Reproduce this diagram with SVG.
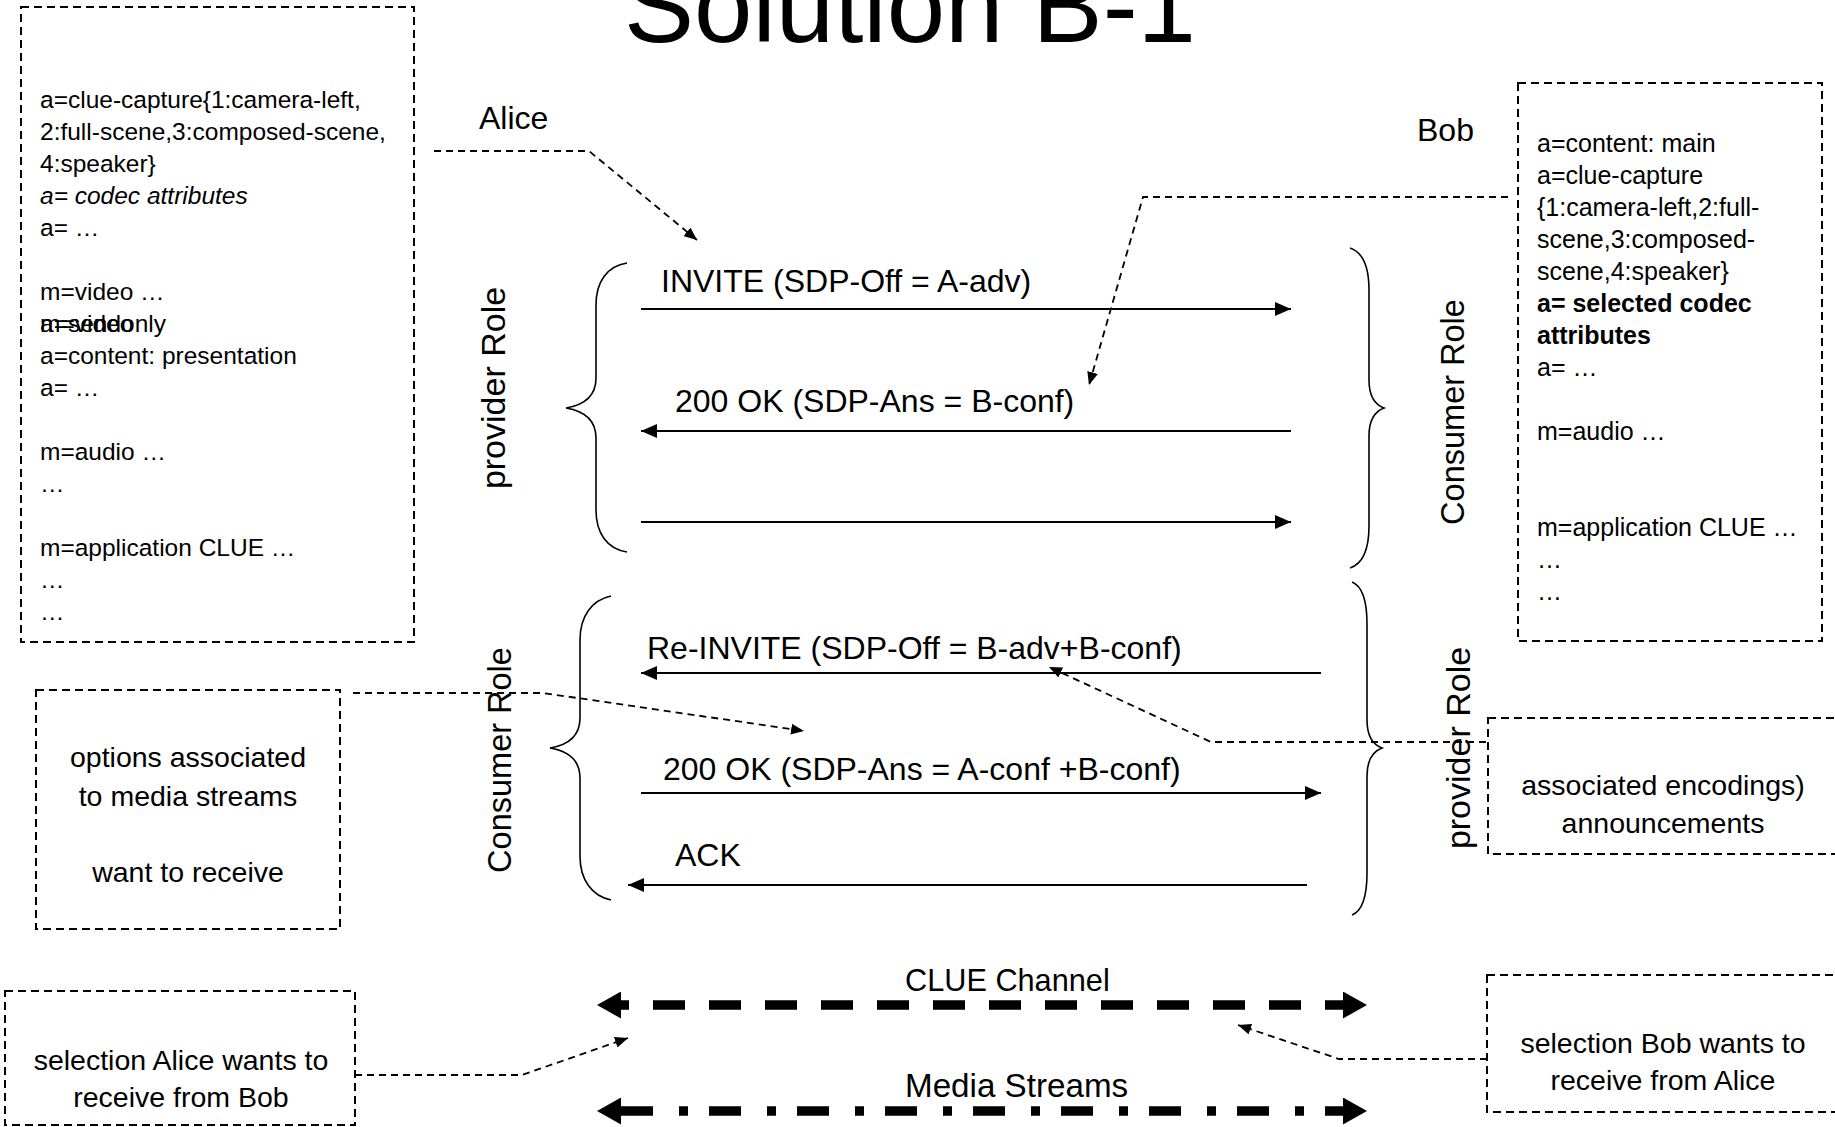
<svg xmlns="http://www.w3.org/2000/svg" width="1835" height="1127" viewBox="0 0 1835 1127">
<style>
text{font-family:"Liberation Sans",Arial,sans-serif;fill:#000}
.box{fill:none;stroke:#000;stroke-width:2;stroke-dasharray:8 5}
.conn{fill:none;stroke:#000;stroke-width:1.8;stroke-dasharray:7 5}
.msg{stroke:#000;stroke-width:2;fill:none}
.brace{fill:none;stroke:#000;stroke-width:1.6}
.sdp{font-size:24.5px}
.sdpr{font-size:25px}
.lbl{font-size:32px}
.note{font-size:28.5px;text-anchor:middle}
.role{text-anchor:middle}
.thick{fill:none;stroke:#000;stroke-width:9.5}
</style>
<defs>
<marker id="ah" viewBox="0 0 16 14" refX="16" refY="7" markerWidth="16" markerHeight="14" markerUnits="userSpaceOnUse" orient="auto"><path d="M0,0 L16,7 L0,14 z" fill="#000"/></marker>
<marker id="sh" viewBox="0 0 13 11" refX="13" refY="5.5" markerWidth="13" markerHeight="11" markerUnits="userSpaceOnUse" orient="auto"><path d="M0,0 L13,5.5 L0,11 z" fill="#000"/></marker>
<marker id="bh" viewBox="0 0 24 27" refX="0" refY="13.5" markerWidth="24" markerHeight="27" markerUnits="userSpaceOnUse" orient="auto-start-reverse"><path d="M0,0 L24,13.5 L0,27 z" fill="#000"/></marker>
</defs>

<text x="910" y="42" font-size="105" text-anchor="middle">Solution B-1</text>

<g id="alice-label"><text class="lbl" x="479" y="129">Alice</text></g>
<g id="bob-label"><text class="lbl" x="1417" y="141" font-size="31.5">Bob</text></g>

<g id="alice-sdp">
<rect class="box" x="21" y="7" width="393" height="635"/>
<g class="sdp">
<text x="40" y="108">a=clue-capture{1:camera-left,</text>
<text x="40" y="140">2:full-scene,3:composed-scene,</text>
<text x="40" y="172">4:speaker}</text>
<text x="40" y="204" font-style="italic">a= codec attributes</text>
<text x="40" y="236">a= …</text>
<text x="40" y="300">m=video …</text>
<text x="40" y="332">a=sendonly</text>
<text x="40" y="332">m=video</text>
<text x="40" y="364">a=content: presentation</text>
<text x="40" y="396">a= …</text>
<text x="40" y="460">m=audio …</text>
<text x="40" y="492">…</text>
<text x="40" y="556">m=application CLUE …</text>
<text x="40" y="588">…</text>
<text x="40" y="620">…</text>
</g>
</g>

<g id="bob-sdp">
<rect class="box" x="1518" y="83" width="304" height="558"/>
<g class="sdpr">
<text x="1537" y="152">a=content: main</text>
<text x="1537" y="184">a=clue-capture</text>
<text x="1537" y="216">{1:camera-left,2:full-</text>
<text x="1537" y="248">scene,3:composed-</text>
<text x="1537" y="280">scene,4:speaker}</text>
<text x="1537" y="312" font-weight="bold">a= selected codec</text>
<text x="1537" y="344" font-weight="bold">attributes</text>
<text x="1537" y="376">a= …</text>
<text x="1537" y="440">m=audio …</text>
<text x="1537" y="536">m=application CLUE …</text>
<text x="1537" y="568">…</text>
<text x="1537" y="600">…</text>
</g>
</g>

<g id="options-note">
<rect class="box" x="36" y="690" width="304" height="239"/>
<text class="note" x="188" y="767" font-size="29">options associated</text>
<text class="note" x="188" y="806" font-size="29">to media streams</text>
<text class="note" x="188" y="882" font-size="29">want to receive</text>
</g>

<g id="announcements-note">
<rect class="box" x="1488" y="718" width="400" height="136"/>
<text class="note" x="1663" y="795">associated encodings)</text>
<text class="note" x="1663" y="833">announcements</text>
</g>

<g id="alice-selection-note">
<rect class="box" x="5" y="991" width="350" height="134"/>
<text class="note" x="181" y="1070" font-size="28">selection Alice wants to</text>
<text class="note" x="181" y="1107" font-size="28">receive from Bob</text>
</g>

<g id="bob-selection-note">
<rect class="box" x="1487" y="975" width="400" height="137"/>
<text class="note" x="1663" y="1053" font-size="28">selection Bob wants to</text>
<text class="note" x="1663" y="1090" font-size="28">receive from Alice</text>
</g>

<g id="braces">
<path class="brace" d="M627,263 C607,266 596,282 596,305 L596,378 C596,396 584,405 566,408 C584,411 596,420 596,438 L596,510 C596,533 607,549 627,552"/>
<path class="brace" d="M1350,248 C1362,252 1369,266 1369,290 L1369,380 C1369,397 1376,405 1384,408 C1376,411 1369,419 1369,436 L1369,526 C1369,550 1362,564 1350,568"/>
<path class="brace" d="M611,596 C592,600 580,616 580,640 L580,718 C580,736 568,745 550,748 C568,751 580,760 580,778 L580,856 C580,880 592,896 611,900"/>
<path class="brace" d="M1352,582 C1362,586 1367,600 1367,624 L1367,720 C1367,737 1374,745 1382,748 C1374,751 1367,759 1367,776 L1367,873 C1367,897 1362,911 1352,915"/>
</g>

<g id="roles">
<text class="role" font-size="34" transform="translate(505,388) rotate(-90)">provider Role</text>
<text class="role" font-size="32.5" transform="translate(1464,412) rotate(-90)">Consumer Role</text>
<text class="role" font-size="32.5" transform="translate(511,760) rotate(-90)">Consumer Role</text>
<text class="role" font-size="34" transform="translate(1470,748) rotate(-90)">provider Role</text>
</g>

<g id="messages">
<text class="lbl" x="661" y="292">INVITE (SDP-Off = A-adv)</text>
<line class="msg" x1="641" y1="309" x2="1291" y2="309" marker-end="url(#ah)"/>
<text class="lbl" x="675" y="412">200 OK (SDP-Ans = B-conf)</text>
<line class="msg" x1="1291" y1="431" x2="641" y2="431" marker-end="url(#ah)"/>
<line class="msg" x1="641" y1="522" x2="1291" y2="522" marker-end="url(#ah)"/>
<text class="lbl" x="647" y="659">Re-INVITE (SDP-Off = B-adv+B-conf)</text>
<line class="msg" x1="1321" y1="673" x2="641" y2="673" marker-end="url(#ah)"/>
<text class="lbl" x="663" y="780">200 OK (SDP-Ans = A-conf +B-conf)</text>
<line class="msg" x1="641" y1="793" x2="1321" y2="793" marker-end="url(#ah)"/>
<text class="lbl" x="675" y="866">ACK</text>
<line class="msg" x1="1307" y1="885" x2="628" y2="885" marker-end="url(#ah)"/>
</g>

<g id="channels">
<text x="905" y="991" font-size="30.7">CLUE Channel</text>
<line class="thick" x1="621" y1="1005" x2="1343" y2="1005" stroke-dasharray="32 24" stroke-dashoffset="24" marker-start="url(#bh)" marker-end="url(#bh)"/>
<text x="905" y="1097" font-size="33.2">Media Streams</text>
<line class="thick" x1="621" y1="1111" x2="1343" y2="1111" stroke-dasharray="32 26 9 21" marker-start="url(#bh)" marker-end="url(#bh)"/>
</g>

<g id="connectors">
<polyline class="conn" points="434,151 589,151 697,240" marker-end="url(#sh)"/>
<polyline class="conn" points="1508,197 1143,197 1089,385" marker-end="url(#sh)"/>
<polyline class="conn" points="353,693 543,693 804,731" marker-end="url(#sh)"/>
<polyline class="conn" points="1486,742 1211,742 1049,667" marker-end="url(#sh)"/>
<polyline class="conn" points="355,1075 522,1075 628,1038" marker-end="url(#sh)"/>
<polyline class="conn" points="1487,1059 1339,1059 1238,1025" marker-end="url(#sh)"/>
</g>
</svg>
